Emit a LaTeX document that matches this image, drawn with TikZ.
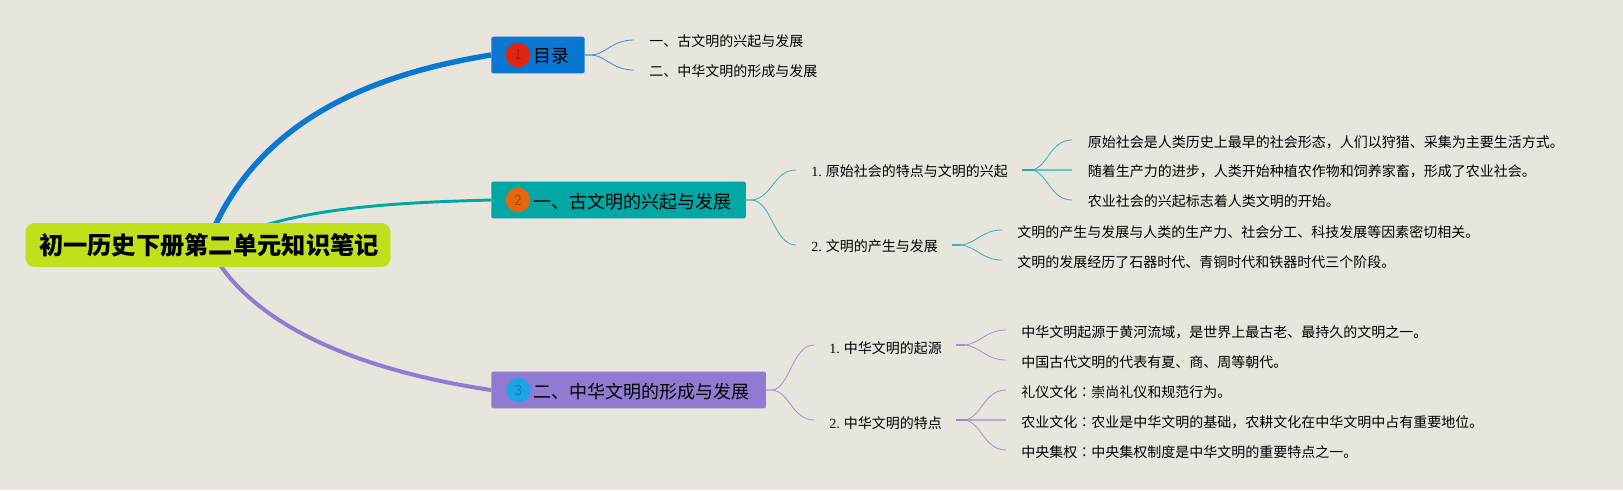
\documentclass[tikz,border=0pt]{standalone}
\usepackage{fontspec}
\usetikzlibrary{backgrounds}
\setmainfont{Noto Sans CJK SC}
\newfontfamily\numfont{Liberation Serif}
\newfontfamily\colonfont{Noto Sans CJK JP}
\newcommand{\fwcolon}{{\colonfont ：}}
\definecolor{bgc}{HTML}{E8E5DD}
\definecolor{rootc}{HTML}{C2DF1C}
\definecolor{bluec}{HTML}{0A78D2}
\definecolor{tealc}{HTML}{00A8A5}
\definecolor{purplec}{HTML}{917BD2}
\definecolor{redc}{HTML}{E0260F}
\definecolor{orangec}{HTML}{E5660F}
\definecolor{skyc}{HTML}{1AA5E6}
\pgfdeclarelayer{paper}
\pgfsetlayers{paper,background,main}
\tikzset{
  rootbox/.style={fill=rootc,rounded corners=7pt,inner sep=0pt,minimum width=274pt,minimum height=33pt,font=\fontsize{18.2}{18.2}\selectfont\bfseries},
  mainbox/.style={rounded corners=1.5pt,inner sep=0pt,minimum height=27.5pt,anchor=west},
  badge/.style={circle,inner sep=0pt,minimum size=18.5pt,text opacity=.25,font=\fontsize{10.5}{10.5}\selectfont},
  maintext/.style={inner sep=0pt,anchor=west,font=\fontsize{13.5}{13.5}\selectfont},
  subtext/.style={inner sep=0pt,anchor=west,font=\fontsize{10.5}{10.5}\selectfont},
  thinlink/.style={line width=.6pt,draw opacity=.8},
  stublink/.style={line width=1.2pt,draw opacity=.55}
}
\begin{document}
\begin{tikzpicture}[x=.75pt,y=-.75pt]
\useasboundingbox (0,0) rectangle (1623,490);
\begin{pgfonlayer}{paper}
\fill[bgc] (0,0) rectangle (1623,490);
\end{pgfonlayer}
\node[rootbox] (root) at (208,245) {\hspace{1.5pt}\raisebox{-.6pt}{初一历史下册第二单元知识笔记}};
\node[mainbox,fill=bluec,minimum width=70pt] (m1) at (491,55) {};
\node[mainbox,fill=tealc,minimum width=191pt] (m2) at (491,200) {};
\node[mainbox,fill=purplec,minimum width=206pt] (m3) at (491,390) {};
\coordinate (r1) at (214,228);
\coordinate (r2) at (262,226);
\coordinate (r3) at (218,262);
\begin{scope}[on background layer]
\draw[bluec,line width=4.1pt] (r1) .. controls (270,105) and (400,70) .. (m1.west);
\draw[tealc,line width=2.2pt] (r2) .. controls (330,205) and (420,202) .. (m2.west);
\draw[purplec,line width=3pt] (r3) .. controls (270,340) and (390,375) .. (m3.west);
\end{scope}
\node[badge,fill=redc] at (518,55) {1};
\node[badge,fill=orangec] at (518,200) {2};
\node[badge,fill=skyc] at (518.5,390) {3};
\node[maintext] at (533.5,56.5) {目录};
\node[maintext] at (533,202) {一、古文明的兴起与发展};
\node[maintext] at (533.5,392) {二、中华文明的形成与发展};
% leaves of 1
\node[subtext] (a1) at (649,41) {一、古文明的兴起与发展};
\node[subtext] (a2) at (649,71) {二、中华文明的形成与发展};
\coordinate (a1e) at (634,40);
\coordinate (a2e) at (634,70);
\draw[bluec,thinlink] (m1.east) -- ++(7,0) .. controls (606,54) and (612,40) .. (a1e);
\draw[bluec,thinlink] (m1.east) -- ++(7,0) .. controls (606,56) and (612,70) .. (a2e);
% branch 2
\node[subtext] (b1) at (811,171) {{\numfont 1.} 原始社会的特点与文明的兴起};
\node[subtext] (b2) at (811,246) {{\numfont 2.} 文明的产生与发展};
\coordinate (b1s) at (796,170);
\coordinate (b2s) at (796,245);
\draw[tealc,thinlink] (m2.east) -- ++(6,0) .. controls (772,198) and (774,170) .. (b1s);
\draw[tealc,thinlink] (m2.east) -- ++(6,0) .. controls (772,202) and (774,245) .. (b2s);
\coordinate (b1o) at (1022,170);
\coordinate (b2o) at (952,245);
\node[subtext] (c1) at (1087.5,142) {原始社会是人类历史上最早的社会形态，人们以狩猎、采集为主要生活方式。};
\node[subtext] (c2) at (1087.5,171) {随着生产力的进步，人类开始种植农作物和饲养家畜，形成了农业社会。};
\node[subtext] (c3) at (1087.5,201) {农业社会的兴起标志着人类文明的开始。};
\coordinate (c1e) at (1072,140);
\coordinate (c2e) at (1072,170);
\coordinate (c3e) at (1072,200);
\draw[tealc,stublink] (b1o) -- ++(10,0);
\draw[tealc,thinlink] (b1o) -- ++(10,0) .. controls (1048,167) and (1050,140) .. (c1e);
\draw[tealc,stublink] (b1o) -- (c2e);
\draw[tealc,thinlink] (b1o) -- ++(10,0) .. controls (1048,173) and (1050,200) .. (c3e);
\node[subtext] (d1) at (1017,232) {文明的产生与发展与人类的生产力、社会分工、科技发展等因素密切相关。};
\node[subtext] (d2) at (1017,262) {文明的发展经历了石器时代、青铜时代和铁器时代三个阶段。};
\coordinate (d1e) at (1002,230);
\coordinate (d2e) at (1002,260);
\draw[tealc,stublink] (b2o) -- ++(9,0);
\draw[tealc,thinlink] (b2o) -- ++(9,0) .. controls (977,243) and (982,230) .. (d1e);
\draw[tealc,thinlink] (b2o) -- ++(9,0) .. controls (977,247) and (982,260) .. (d2e);
% branch 3
\node[subtext] (e1) at (829,348) {{\numfont 1.} 中华文明的起源};
\node[subtext] (e2) at (829,423) {{\numfont 2.} 中华文明的特点};
\coordinate (e1s) at (814.5,345);
\coordinate (e2s) at (814.5,420);
\draw[purplec,thinlink] (m3.east) -- ++(6,0) .. controls (790,388) and (792,345) .. (e1s);
\draw[purplec,thinlink] (m3.east) -- ++(6,0) .. controls (790,392) and (792,420) .. (e2s);
\coordinate (e1o) at (956,345);
\coordinate (e2o) at (956,420);
\node[subtext] (f1) at (1021,332) {中华文明起源于黄河流域，是世界上最古老、最持久的文明之一。};
\node[subtext] (f2) at (1021,362) {中国古代文明的代表有夏、商、周等朝代。};
\coordinate (f1e) at (1006,330);
\coordinate (f2e) at (1006,360);
\draw[purplec,stublink] (e1o) -- ++(9,0);
\draw[purplec,thinlink] (e1o) -- ++(9,0) .. controls (981,343) and (986,330) .. (f1e);
\draw[purplec,thinlink] (e1o) -- ++(9,0) .. controls (981,347) and (986,360) .. (f2e);
\node[subtext] (g1) at (1021,392) {礼仪文化\fwcolon 崇尚礼仪和规范行为。};
\node[subtext] (g2) at (1021,422) {农业文化\fwcolon 农业是中华文明的基础，农耕文化在中华文明中占有重要地位。};
\node[subtext] (g3) at (1021,452) {中央集权\fwcolon 中央集权制度是中华文明的重要特点之一。};
\coordinate (g1e) at (1006,390);
\coordinate (g2e) at (1006,420);
\coordinate (g3e) at (1006,450);
\draw[purplec,stublink] (e2o) -- ++(9,0);
\draw[purplec,thinlink] (e2o) -- ++(9,0) .. controls (982,417) and (984,390) .. (g1e);
\draw[purplec,stublink] (e2o) -- (g2e);
\draw[purplec,thinlink] (e2o) -- ++(9,0) .. controls (982,423) and (984,450) .. (g3e);
\end{tikzpicture}
\end{document}
